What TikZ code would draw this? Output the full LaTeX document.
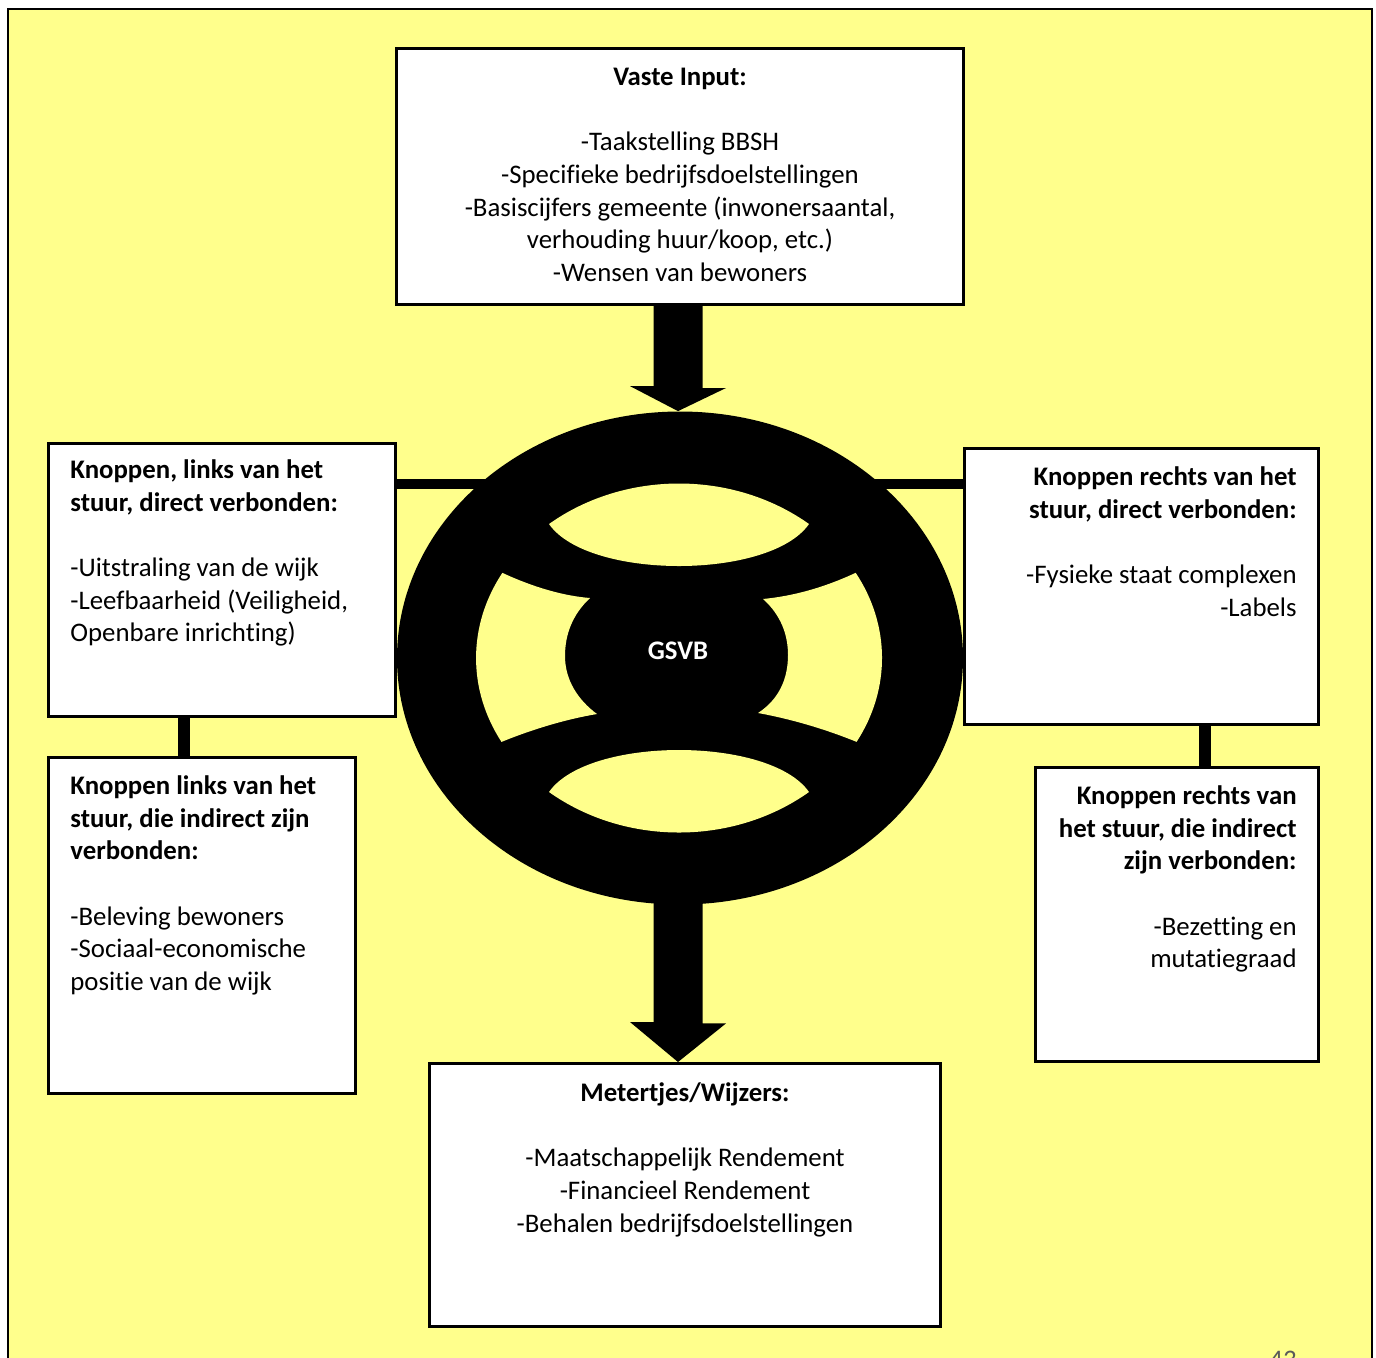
\documentclass[tikz,border=0pt]{standalone}
\usepackage{fontspec}
\setmainfont{Carlito}[Ligatures={NoCommon}]
\usetikzlibrary{calc,shapes.geometric}
\definecolor{bgyellow}{RGB}{255,255,140}
\definecolor{pagegray}{RGB}{90,90,90}
\begin{document}
\begin{tikzpicture}[x=0.5pt,y=-0.5pt,
  box/.style={draw=black,line width=1.5pt,fill=white,inner sep=0pt},
  txt/.style={inner sep=0pt,font=\fontsize{13.4}{16.35}\selectfont},
  hbar/.style={draw=black,line width=5pt},
  vbar/.style={draw=black,line width=6pt},
  hole/.style={fill=bgyellow},
]
\useasboundingbox (0,0) rectangle (1376,1357);
\clip (0,0) rectangle (1376,1357);
% background frame
\fill[bgyellow] (8,9) rectangle (1372,1420);
\draw[line width=1pt] (8,1420) -- (8,9) -- (1372,9) -- (1372,1420);

% boxes
\node[box,minimum width=283.5pt,minimum height=128pt] (top) at (680,176.5) {};
\node[box,minimum width=173.5pt,minimum height=136.5pt] (lt) at (222,580) {};
\node[box,minimum width=153.5pt,minimum height=168pt] (lb) at (202,925.5) {};
\node[box,minimum width=177pt,minimum height=138pt] (rt) at (1141.5,586.5) {};
\node[box,minimum width=141.5pt,minimum height=147pt] (rb) at (1177,914.5) {};
\node[box,minimum width=255.5pt,minimum height=131.5pt] (bot) at (685,1195) {};

% helper coordinates
\coordinate (ly) at (0,484);
\coordinate (lx) at (184,0);
\coordinate (rx) at (1205,0);
\coordinate (ta) at (678,0);

% wheel
\node[ellipse,fill=black,inner sep=0pt,minimum width=283pt,minimum height=246.5pt] (wheel) at (680,658) {};

% horizontal bars
\draw[hbar] (lt.east |- ly) -- ($(wheel.center |- ly)+(-150,0)$);
\draw[hbar] (rt.west |- ly) -- ($(wheel.center |- ly)+(150,0)$);
% vertical bars
\draw[vbar] (lt.south -| lx) -- (lb.north -| lx);
\draw[vbar] (rt.south -| rx) -- (rb.north -| rx);

% arrows
\fill[black] (ta |- top.south) ++(-24.5,0) -- ++(49,0) -- ++(0,82) -- ++(23.5,0)
  -- (ta |- wheel.north) -- ++(-48,-25) -- ++(23.5,0) -- cycle;
\fill[black] (ta |- wheel.south) ++(-24.5,-20) -- ++(49,0) -- ++(0,138.5) -- ++(23.5,0)
  -- (ta |- bot.north) -- ++(-48,-40) -- ++(23.5,0) -- cycle;

% holes of the wheel
\fill[hole] (549,524) .. controls (625,470) and (733,470) .. (809,524)
  .. controls (770,580) and (588,580) .. (549,524) -- cycle;
\fill[hole] (549,792) .. controls (588,736) and (770,736) .. (809,792)
  .. controls (733,846) and (625,846) .. (549,792) -- cycle;
\fill[hole] (501.5,741.9) arc[start angle=151, end angle=209.5, x radius=203, y radius=173]
  .. controls (535,588) and (565,596) .. (590,598)
  .. controls (572,615) and (565,635) .. (565,656)
  .. controls (565,680) and (578,700) .. (597,714)
  .. controls (567,719) and (533,729) .. (501.5,741.9) -- cycle;
\fill[hole] (855.7,572.8) arc[start angle=-29.5, end angle=29, x radius=203, y radius=173]
  .. controls (825,729) and (791,719) .. (758,713)
  .. controls (778,700) and (788,680) .. (788,655)
  .. controls (788,635) and (781,615) .. (763,599)
  .. controls (793,596) and (823,588) .. (855.7,572.8) -- cycle;

\node[txt,text=white,font=\fontsize{13.4}{16.35}\selectfont\bfseries,anchor=base] (hub) at (678,659.5) {GSVB};

% texts
\node[txt,align=center,anchor=north] (toptxt) at (680,61)
  {\rule{0pt}{12pt}\textbf{Vaste Input:}\\[16.35pt]
   -Taakstelling BBSH\\
   -Specifieke bedrijfsdoelstellingen\\
   -Basiscijfers gemeente (inwonersaantal,\\
   verhouding huur/koop, etc.)\\
   -Wensen van bewoners};
\node[txt,align=left,anchor=north west] (lttxt) at (70,454)
  {\rule{0pt}{12pt}\textbf{Knoppen, links van het}\\
   \textbf{stuur, direct verbonden:}\\[16.35pt]
   -Uitstraling van de wijk\\
   -Leefbaarheid (Veiligheid,\\
   Openbare inrichting)};
\node[txt,align=left,anchor=north west] (lbtxt) at (70,770)
  {\rule{0pt}{12pt}\textbf{Knoppen links van het}\\
   \textbf{stuur, die indirect zijn}\\
   \textbf{verbonden:}\\[16.35pt]
   -Beleving bewoners\\
   -Sociaal-economische\\
   positie van de wijk};
\node[txt,align=right,anchor=north east] (rttxt) at (1297,461)
  {\rule{0pt}{12pt}\textbf{Knoppen rechts van het}\\
   \textbf{stuur, direct verbonden:}\\[16.35pt]
   -Fysieke staat complexen\\
   -Labels};
\node[txt,align=right,anchor=north east] (rbtxt) at (1297,780)
  {\rule{0pt}{12pt}\textbf{Knoppen rechts van}\\
   \textbf{het stuur, die indirect}\\
   \textbf{zijn verbonden:}\\[16.35pt]
   -Bezetting en\\
   mutatiegraad};
\node[txt,align=center,anchor=north] (bottxt) at (685,1077)
  {\rule{0pt}{12pt}\textbf{Metertjes/Wijzers:}\\[16.35pt]
   -Maatschappelijk Rendement\\
   -Financieel Rendement\\
   -Behalen bedrijfsdoelstellingen};

% page number (cut off at the lower edge, as in the reference)
\node[txt,text=pagegray,anchor=base] (pagenum) at (1283,1368) {43};
\end{tikzpicture}
\end{document}
